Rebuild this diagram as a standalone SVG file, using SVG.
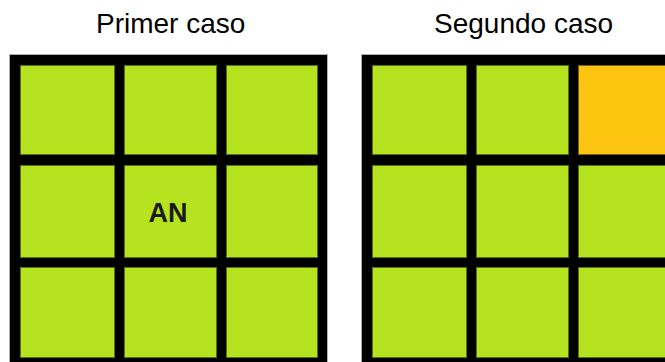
<svg xmlns="http://www.w3.org/2000/svg" width="665" height="362" viewBox="0 0 665 362">
<style>
.frame{fill:#000;stroke:#b0b0b0;stroke-width:1}
.cell{fill:#b5e31f;stroke:#5a7010;stroke-width:1}
.warn{fill:#fdc50f;stroke:#7a6010;stroke-width:1}
.title{font-family:"Liberation Sans",Arial,sans-serif;font-size:28px;fill:#000}
.lbl{font-family:"Liberation Sans",Arial,sans-serif;font-size:27px;font-weight:bold;fill:#1a1a1a;text-anchor:middle}
</style>
<rect width="665" height="362" fill="#fff"/>
<text class="title" x="96" y="33">Primer caso</text>
<text class="title" x="434" y="33">Segundo caso</text>
<g id="grid1">
<rect class="frame" x="9.5" y="54.5" width="318" height="312"/>
<g id="g1c11"><rect class="cell" x="20.5" y="65.5" width="94" height="89"/></g>
<g id="g1c12"><rect class="cell" x="124.5" y="65.5" width="92" height="89"/></g>
<g id="g1c13"><rect class="cell" x="226.5" y="65.5" width="91" height="89"/></g>
<g id="g1c21"><rect class="cell" x="20.5" y="165.5" width="94" height="92"/></g>
<g id="g1c22"><rect class="cell" x="124.5" y="165.5" width="92" height="92"/><text class="lbl" x="168" y="222">AN</text></g>
<g id="g1c23"><rect class="cell" x="226.5" y="165.5" width="91" height="92"/></g>
<g id="g1c31"><rect class="cell" x="20.5" y="267.5" width="94" height="90"/></g>
<g id="g1c32"><rect class="cell" x="124.5" y="267.5" width="92" height="90"/></g>
<g id="g1c33"><rect class="cell" x="226.5" y="267.5" width="91" height="90"/></g>
</g>
<g id="grid2">
<rect class="frame" x="361.5" y="54.5" width="320" height="312"/>
<g id="g2c11"><rect class="cell" x="372.5" y="65.5" width="94" height="89"/></g>
<g id="g2c12"><rect class="cell" x="476.5" y="65.5" width="92" height="89"/></g>
<g id="g2c13"><rect class="warn" x="578.5" y="65.5" width="100" height="89"/></g>
<g id="g2c21"><rect class="cell" x="372.5" y="165.5" width="94" height="92"/></g>
<g id="g2c22"><rect class="cell" x="476.5" y="165.5" width="92" height="92"/></g>
<g id="g2c23"><rect class="cell" x="578.5" y="165.5" width="100" height="92"/></g>
<g id="g2c31"><rect class="cell" x="372.5" y="267.5" width="94" height="90"/></g>
<g id="g2c32"><rect class="cell" x="476.5" y="267.5" width="92" height="90"/></g>
<g id="g2c33"><rect class="cell" x="578.5" y="267.5" width="100" height="90"/></g>
</g>
<g id="connectors"></g>
</svg>
